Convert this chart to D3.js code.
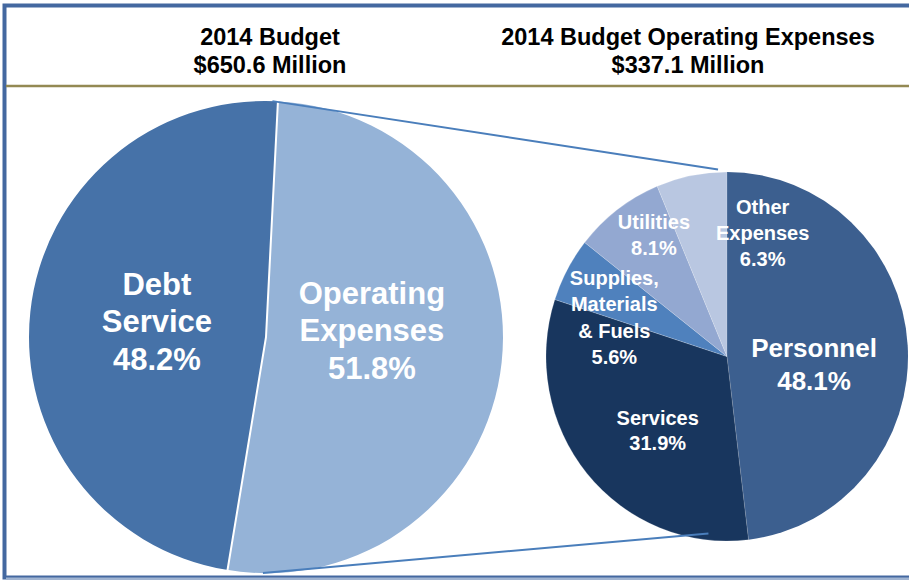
<!DOCTYPE html>
<html><head><meta charset="utf-8">
<script src="https://cdn.jsdelivr.net/npm/d3@7"></script>
<style>body{margin:0;background:#fff}svg{display:block}text{font-family:"Liberation Sans",Arial,sans-serif;font-weight:bold}</style>
</head><body><svg id="c" width="909" height="581"></svg>
<script>
// ---- data ----
const budgetCategories = ["Operating\nExpenses", "Debt\nService"];
const budgetValues = [51.8, 48.2];
const budgetLabels = ["Operating\nExpenses\n51.8%", "Debt\nService\n48.2%"];
const opexCategories = ["Personnel", "Services", "Supplies, Materials & Fuels", "Utilities", "Other Expenses"];
const opexValues = [48.1, 31.9, 5.6, 8.1, 6.3];
const opexLabels = ["Personnel\n48.1%", "Services\n31.9%", "Supplies,\nMaterials\n& Fuels\n5.6%", "Utilities\n8.1%", "Other\nExpenses\n6.3%"];
const titles = [["2014 Budget", "$650.6 Million"], ["2014 Budget Operating Expenses", "$337.1 Million"]];

// ---- style / layout ----
const budgetColors = ["#95B3D7", "#4672A8"];
const opexColors = ["#3C5F8F", "#18365E", "#4F81BD", "#93A8D1", "#B9C7E1"];
const svg = d3.select("#c");
const rad = d => d * Math.PI / 180;

// frame
svg.append("rect").attr("x", 4.5).attr("y", 5.5).attr("width", 912).attr("height", 572)
  .attr("fill", "none").attr("stroke", "#4468A0").attr("stroke-width", 4);
svg.append("line").attr("x1", 6).attr("x2", 909).attr("y1", 578.5).attr("y2", 578.5)
  .attr("stroke", "#9FB4D2").attr("stroke-width", 2);
svg.append("line").attr("x1", 6).attr("x2", 909).attr("y1", 86).attr("y2", 86)
  .attr("stroke", "#938953").attr("stroke-width", 2.5);

// titles
const titleX = [270, 688];
titles.forEach((t, i) => {
  t.forEach((s, j) => {
    svg.append("text").attr("x", titleX[i]).attr("y", 45 + j * 28)
      .attr("text-anchor", "middle").attr("font-size", 23.5).attr("fill", "#000").text(s);
  });
});

// left pie
const L = {cx: 265, cy: 337, r: 236, start: 2.9};
const pieL = d3.pie().sort(null).startAngle(rad(L.start)).endAngle(rad(L.start + 360));
const arcsL = pieL(budgetValues);
const arcL = d3.arc().innerRadius(0).outerRadius(L.r);
const gL = svg.append("g").attr("transform", `translate(${L.cx},${L.cy})`);
gL.selectAll("path").data(arcsL).join("path")
  .attr("d", arcL)
  .attr("fill", (d, i) => budgetColors[i])
  .attr("transform", (d, i) => {
    if (i !== 0) return null;
    const m = (d.startAngle + d.endAngle) / 2, e = 2;
    return `translate(${Math.sin(m) * e},${-Math.cos(m) * e})`;
  });

// right pie
const R = {cx: 727, cy: 356.5, rx: 181, ry: 184.5};
const rr = 183;
const pieR = d3.pie().sort(null);
const arcsR = pieR(opexValues);
const arcR = d3.arc().innerRadius(0).outerRadius(rr);
const gR = svg.append("g").attr("transform", `translate(${R.cx},${R.cy}) scale(${R.rx / rr},${R.ry / rr})`);
gR.selectAll("path").data(arcsR).join("path")
  .attr("d", arcR)
  .attr("fill", (d, i) => opexColors[i])
  .attr("stroke", (d, i) => i === 0 ? "none" : "rgba(255,255,255,0.3)").attr("stroke-width", 0.6);

// connector lines from the left pie to the right pie
const ptL = (deg, k) => [L.cx + Math.sin(rad(deg)) * L.r * k, L.cy - Math.cos(rad(deg)) * L.r * k];
const ptR = (deg, k) => [R.cx + Math.sin(rad(deg)) * R.rx * k, R.cy - Math.cos(rad(deg)) * R.ry * k];
const conn = [[ptL(1.8, 1.0), ptR(-2.8, 1.015)], [ptL(180.5, 1.0), ptR(186.1, 0.965)]];
conn.forEach(([a, b]) => {
  svg.append("line").attr("x1", a[0]).attr("y1", a[1]).attr("x2", b[0]).attr("y2", b[1])
    .attr("stroke", "#4A7EBB").attr("stroke-width", 2);
});

// labels (polar placement: angle deg, radius fraction)
function label(cx, cy, rx, ry, pos, txt, fs, lh) {
  const x = cx + Math.sin(rad(pos[0])) * rx * pos[1];
  const y = cy - Math.cos(rad(pos[0])) * ry * pos[1];
  const lines = txt.split("\n");
  const t = svg.append("text").attr("text-anchor", "middle").attr("fill", "#fff").attr("font-size", fs);
  lines.forEach((s, j) => {
    t.append("tspan").attr("x", x).attr("y", y + (j - (lines.length - 1) / 2) * lh)
      .attr("dy", "0.36em").text(s);
  });
}
const labelPosL = [[86.3, 0.454], [278.4, 0.463]];
budgetLabels.forEach((s, i) => label(L.cx, L.cy, L.r, L.r, labelPosL[i], s, 31, 37.5));
const labelPosR = [[95.2, 0.483], [223.6, 0.555], [288.9, 0.658], [328.6, 0.775], [16.4, 0.698]];
const fsR = [26, 20, 20, 20, 20], lhR = [33, 25, 26.3, 26, 26];
opexLabels.forEach((s, i) => label(R.cx, R.cy, R.rx, R.ry, labelPosR[i], s, fsR[i], lhR[i]));
</script></body></html>
